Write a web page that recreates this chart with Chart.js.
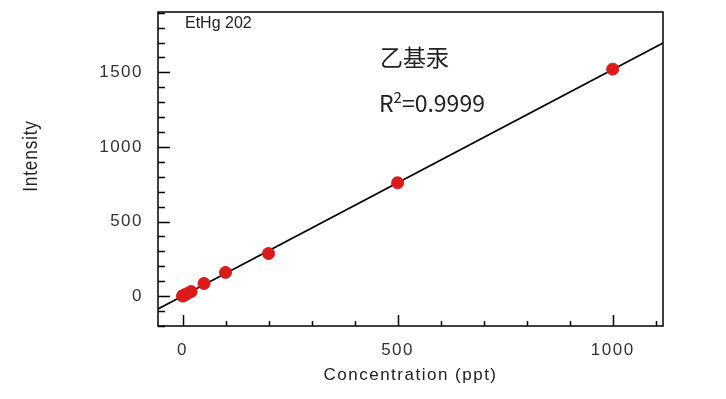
<!DOCTYPE html>
<html>
<head>
<meta charset="utf-8">
<script src="https://cdn.jsdelivr.net/npm/chart.js@4.4.1/dist/chart.umd.min.js"></script>
<style>
  body { margin: 0; background: #fff; }
  #wrap { width: 726px; height: 399px; }
</style>
</head>
<body>
<div id="wrap"><canvas id="calibChart"></canvas></div>
<script>
// calibration standards (ppt) and measured intensity
const concentrations = [0, 2, 5, 10, 20, 50, 100, 200, 500, 1000];
const intensities = [1, 4, 8, 16, 31, 85, 159, 286, 760, 1522];

const xMajorTicks = [0, 500, 1000];
const yMajorTicks = [0, 500, 1000, 1500];
const minorStep = 100;

const xRange = [-57, 1117];
const yRange = [-200, 1905];

const seriesName = "EtHg 202";
const compoundLabel = "乙基汞";
const r2Label = "0.9999";

// least squares fit through the standards
const n = concentrations.length;
const mx = concentrations.reduce((a, b) => a + b, 0) / n;
const my = intensities.reduce((a, b) => a + b, 0) / n;
let sxy = 0, sxx = 0;
for (let i = 0; i < n; i++) {
  sxy += (concentrations[i] - mx) * (intensities[i] - my);
  sxx += (concentrations[i] - mx) ** 2;
}
const slope = sxy / sxx;
const intercept = my - slope * mx;
const fitLine = xRange.map(x => ({ x: x, y: slope * x + intercept }));

const font = "'Liberation Sans', Arial, sans-serif";
const cjk = "'Noto Sans CJK SC', 'Noto Sans', sans-serif";

function stepTicks(scale) {
  const out = [];
  const start = Math.ceil(scale.min / minorStep) * minorStep;
  for (let v = start; v <= scale.max; v += minorStep) out.push({ value: v });
  scale.ticks = out;
}

const decorations = {
  id: "decorations",
  beforeDraw(chart) {
    chart.ctx.letterSpacing = "1.5px";
  },
  afterDraw(chart) {
    const { ctx, chartArea: a, scales } = chart;
    ctx.save();
    ctx.strokeStyle = "#000";
    ctx.lineWidth = 1.5;
    ctx.beginPath();
    scales.x.ticks.forEach(t => {
      const px = Math.round(scales.x.getPixelForValue(t.value)) + 0.5;
      const len = xMajorTicks.includes(t.value) ? 11 : 5;
      ctx.moveTo(px, a.bottom);
      ctx.lineTo(px, a.bottom - len);
    });
    scales.y.ticks.forEach(t => {
      const py = Math.round(scales.y.getPixelForValue(t.value)) + 0.5;
      const len = yMajorTicks.includes(t.value) ? 12 : 7;
      ctx.moveTo(a.left, py);
      ctx.lineTo(a.left + len, py);
    });
    ctx.stroke();
    ctx.strokeRect(a.left, a.top, a.right - a.left, a.bottom - a.top);

    ctx.fillStyle = "#222";
    ctx.letterSpacing = "1.5px";
    ctx.font = "17px " + font;
    ctx.textAlign = "center";
    ctx.textBaseline = "alphabetic";
    ctx.fillText("Concentration (ppt)", (a.left + a.right) / 2, 380);

    ctx.save();
    ctx.translate(37, 156);
    ctx.rotate(-Math.PI / 2);
    ctx.scale(0.82, 1);
    ctx.letterSpacing = "1px";
    ctx.font = "21px " + font;
    ctx.fillText("Intensity", 0, 0);
    ctx.restore();

    ctx.textAlign = "left";
    ctx.letterSpacing = "0px";
    ctx.font = "16px " + font;
    ctx.fillText(seriesName, 185, 28);

    ctx.font = "23px " + cjk;
    ctx.fillText(compoundLabel, 380, 66);
    let tx = 379;
    ctx.fillText("R", tx, 112);
    tx += ctx.measureText("R").width;
    ctx.font = "15px " + cjk;
    ctx.fillText("2", tx, 103);
    tx += ctx.measureText("2").width;
    ctx.font = "23px " + cjk;
    ctx.fillText("=" + r2Label, tx, 112);
    ctx.restore();
  }
};

const ctx = document.getElementById("calibChart").getContext("2d");
new Chart(ctx, {
  type: "scatter",
  data: {
    datasets: [
      {
        label: "Standards",
        data: concentrations.map((c, i) => ({ x: c, y: intensities[i] })),
        backgroundColor: "rgb(220, 26, 26)",
        borderColor: "rgb(220, 26, 26)",
        pointRadius: 6,
        pointHoverRadius: 6,
      },
      {
        type: "line",
        label: "Fit",
        data: fitLine,
        borderColor: "#000",
        borderWidth: 1.6,
        pointRadius: 0,
        fill: false,
      },
    ],
  },
  options: {
    responsive: true,
    maintainAspectRatio: false,
    animation: false,
    layout: { padding: { top: 12, right: 63, left: 0, bottom: 0 } },
    plugins: {
      legend: { display: false },
      tooltip: { enabled: false },
    },
    scales: {
      x: {
        type: "linear",
        min: xRange[0],
        max: xRange[1],
        afterBuildTicks: stepTicks,
        afterFit: s => { s.height = 73; s.paddingLeft = 0; s.paddingRight = 0; },
        grid: { display: false, drawTicks: false },
        border: { display: false },
        ticks: {
          autoSkip: false,
          maxRotation: 0,
          padding: 14,
          color: "#333",
          font: { family: font, size: 17 },
          callback: v => (xMajorTicks.includes(v) ? v : ""),
        },
      },
      y: {
        type: "linear",
        min: yRange[0],
        max: yRange[1],
        afterBuildTicks: stepTicks,
        afterFit: s => { s.width = 158; s.paddingTop = 0; s.paddingBottom = 0; },
        grid: { display: false, drawTicks: false },
        border: { display: false },
        ticks: {
          autoSkip: false,
          padding: 15,
          color: "#333",
          font: { family: font, size: 17 },
          callback: v => (yMajorTicks.includes(v) ? v : ""),
        },
      },
    },
  },
  plugins: [decorations],
});
</script>
</body>
</html>
